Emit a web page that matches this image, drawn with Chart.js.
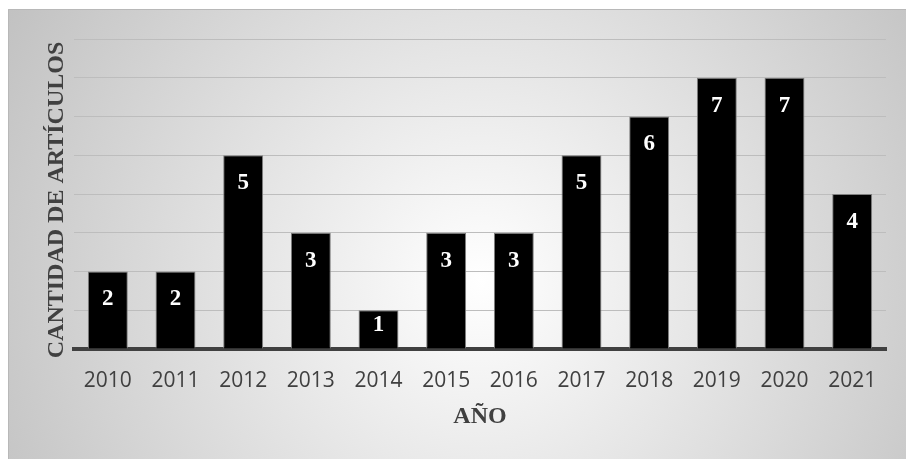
<!DOCTYPE html>
<html>
<head>
<meta charset="utf-8">
<script src="https://cdn.jsdelivr.net/npm/chart.js@4"></script>
<style>
  html, body { margin: 0; padding: 0; background: #fff; }
  #wrap { width: 906px; height: 459px; position: relative; }
</style>
</head>
<body>
<div id="wrap"><canvas id="articulosChart"></canvas></div>
<script>
const years = ['2010', '2011', '2012', '2013', '2014', '2015', '2016', '2017', '2018', '2019', '2020', '2021'];
const articleCounts = [2, 2, 5, 3, 1, 3, 3, 5, 6, 7, 7, 4];
const yMin = 0;
const yMax = 8;

// gray "path" style background behind the whole chart
const backgroundPlugin = {
    id: 'bgGradient',
    beforeDraw(chart) {
        const c = chart.ctx;
        c.save();
        const g = c.createRadialGradient(480, 280, 0, 480, 280, 540);
        g.addColorStop(0, '#ffffff');
        g.addColorStop(1, '#c2c2c2');
        c.fillStyle = g;
        c.fillRect(8, 9, 898, 450);
        c.strokeStyle = '#b8b8b8';
        c.lineWidth = 1;
        c.beginPath();
        c.moveTo(8.5, 459);
        c.lineTo(8.5, 9.5);
        c.lineTo(906, 9.5);
        c.stroke();
        c.restore();
    }
};

// white value labels inside the top of each bar
const valueLabels = {
    id: 'valueLabels',
    afterDatasetsDraw(chart) {
        const c = chart.ctx;
        const meta = chart.getDatasetMeta(0);
        c.save();
        c.fillStyle = '#ffffff';
        c.font = 'bold 23px "Liberation Serif", "DejaVu Serif", serif';
        c.textAlign = 'center';
        c.textBaseline = 'middle';
        meta.data.forEach((bar, i) => {
            const y = Math.min(bar.y + 28, bar.base - 23);
            c.fillText(String(chart.data.datasets[0].data[i]), bar.x, y);
        });
        c.restore();
    }
};

let ctx = document.getElementById('articulosChart').getContext('2d');
let myChart = new Chart(ctx, {
    type: 'bar',
    data: {
        labels: years,
        datasets: [{
            label: 'Cantidad de artículos',
            data: articleCounts,
            backgroundColor: '#000000',
            borderColor: '#808080',
            borderWidth: 1,
            barPercentage: 0.59,
            categoryPercentage: 1
        }]
    },
    options: {
        responsive: true,
        maintainAspectRatio: false,
        animation: false,
        layout: {
            padding: { top: 39, right: 20, bottom: 0, left: 42 }
        },
        plugins: {
            legend: { display: false },
            tooltip: { enabled: false }
        },
        scales: {
            x: {
                grid: { display: false, drawTicks: false },
                border: { display: true, color: '#404040', width: 4 },
                ticks: {
                    color: '#404040',
                    padding: 19,
                    font: { family: '"Open Sans", "Noto Sans", sans-serif', size: 21 }
                },
                title: {
                    display: true,
                    text: 'AÑO',
                    color: '#404040',
                    font: { family: '"Liberation Serif", "DejaVu Serif", serif', size: 24, weight: 'bold' },
                    padding: { top: 0, bottom: 28 }
                },
                afterFit(scale) { scale.height = 110; }
            },
            y: {
                min: yMin,
                max: yMax,
                ticks: { display: false, stepSize: 1 },
                grid: { color: '#bdbdbd', lineWidth: 1, drawTicks: false },
                border: { display: false },
                title: {
                    display: true,
                    text: 'CANTIDAD DE ARTÍCULOS\u00a0\u00a0',
                    color: '#404040',
                    font: { family: '"Liberation Serif", "DejaVu Serif", serif', size: 24, weight: 'bold' },
                    padding: 0
                },
                afterFit(scale) { scale.width = 32; }
            }
        }
    },
    plugins: [backgroundPlugin, valueLabels]
});
</script>
</body>
</html>
